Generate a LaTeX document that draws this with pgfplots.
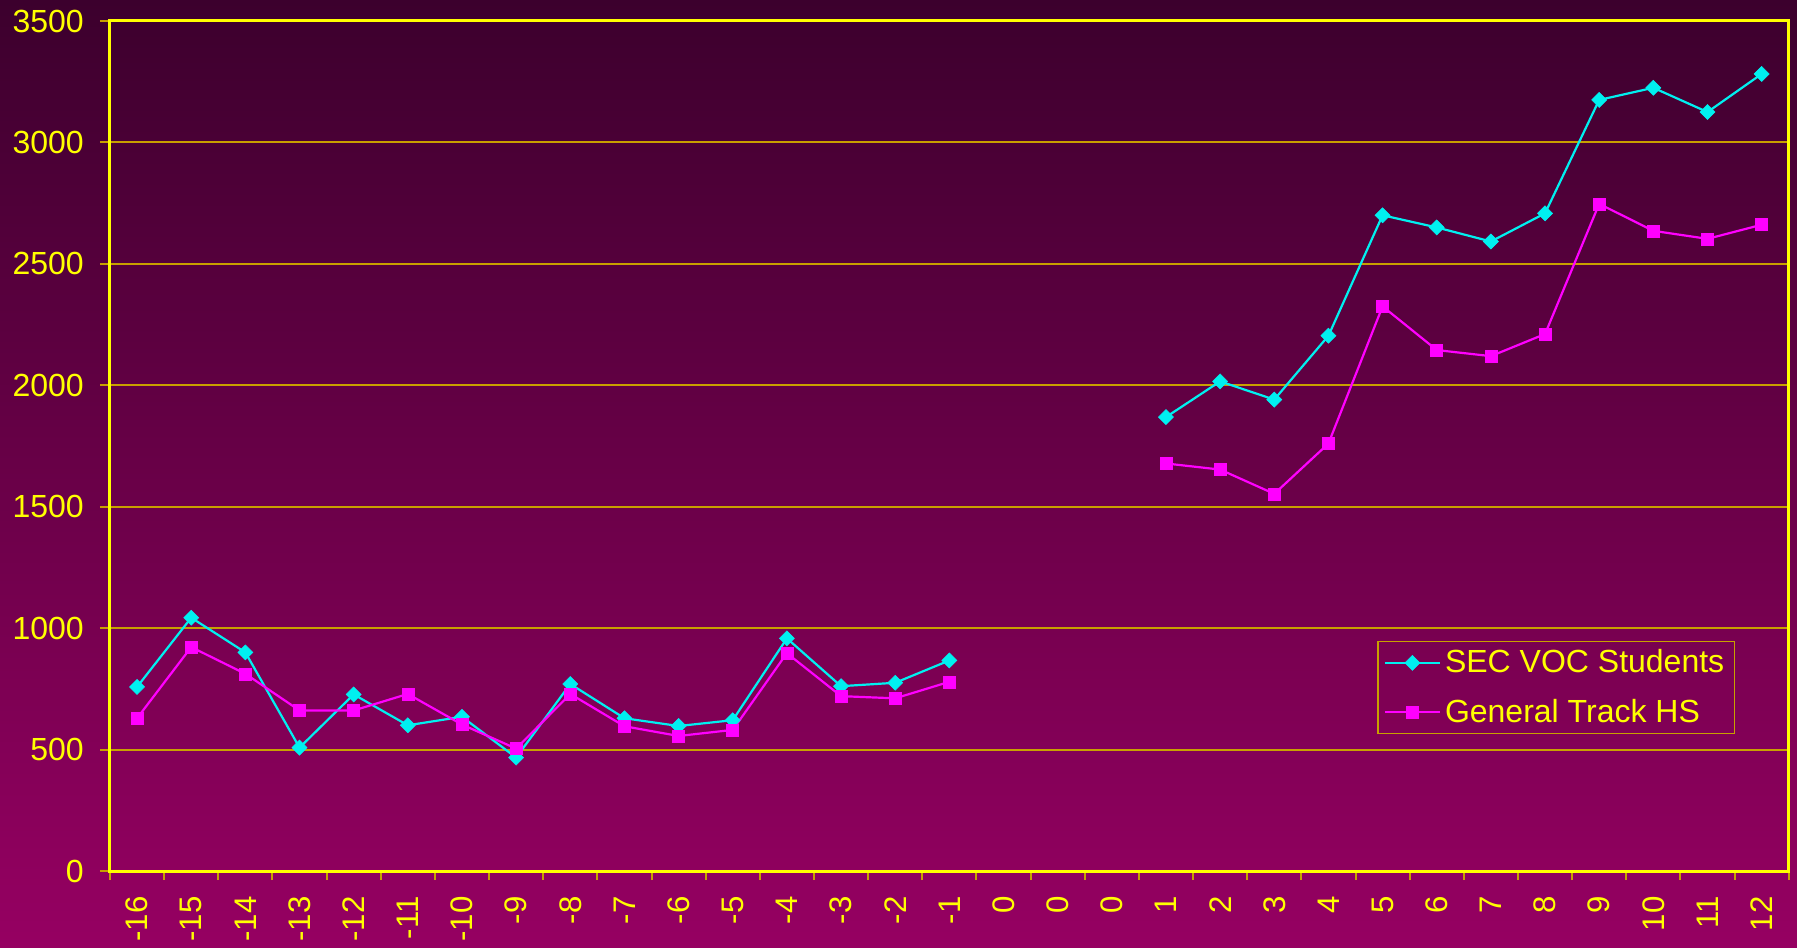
\documentclass[border=0pt]{standalone}
\usepackage{pgfplots}
\usepackage{pgfplotstable}
\pgfplotsset{compat=1.18}
\usepackage{fontspec}
\setmainfont{Liberation Sans}
\usetikzlibrary{backgrounds}

\definecolor{bgtop}{RGB}{60,0,45}
\definecolor{bgmid}{RGB}{122,0,80}
\definecolor{bgbot}{RGB}{150,0,98}
\definecolor{vocc}{RGB}{0,240,240}
\definecolor{genm}{RGB}{255,0,255}
\definecolor{gridgold}{RGB}{200,160,0}
\definecolor{axyel}{RGB}{255,255,0}

% x = position of the category (-16 ... -1, 0, 0, 0, 1 ... 12)
\pgfplotstableread{
x voc gen
0 758 629
1 1043 922
2 900 812
3 508 661
4 727 661
5 600 729
6 635 603
7 467 504
8 770 729
9 629 596
10 597 556
11 621 581
12 958 897
13 761 720
14 775 711
15 867 779
16 nan nan
17 nan nan
18 nan nan
19 1869 1678
20 2016 1653
21 1941 1553
22 2204 1760
23 2700 2325
24 2650 2145
25 2592 2120
26 2708 2211
27 3175 2747
28 3225 2636
29 3125 2603
30 3282 2661
}\students

\begin{document}
\begin{tikzpicture}
\begin{axis}[
    scale only axis,
    width=839.35pt, height=425pt,
    xmin=-0.5, xmax=30.5,
    ymin=0, ymax=3500,
    xtick={0,...,30},
    xticklabels={-16,-15,-14,-13,-12,-11,-10,-9,-8,-7,-6,-5,-4,-3,-2,-1,0,0,0,1,2,3,4,5,6,7,8,9,10,11,12},
    minor xtick={-0.5,0.5,...,30.5},
    major x tick style={draw=none},
    minor x tick style={gridgold, line width=1pt},
    ytick={0,500,...,3500},
    y tick style={gridgold, line width=1pt},
    tick pos=left,
    tick align=outside,
    major tick length=5pt,
    minor tick length=4.5pt,
    ymajorgrids,
    grid style={gridgold, line width=1pt},
    axis line style={axyel, line width=1.5pt},
    tick label style={axyel, font=\fontsize{16}{19}\selectfont},
    xticklabel style={rotate=90, anchor=east, inner xsep=7.5pt,
        font=\fontsize{15.6}{19}\selectfont},
    yticklabel style={xshift=-4.6pt},
    /pgf/number format/assume math mode=true,
    /pgf/number format/1000 sep={},
    scaled y ticks=false,
    unbounded coords=jump,
    legend cell align=left,
    legend style={
        at={(0.968,0.271)}, anchor=north east,
        draw=gridgold, line width=0.75pt, fill=none,
        text=axyel, font=\fontsize{16}{19}\selectfont,
        row sep=7.5pt, inner xsep=3pt, inner ysep=2.2pt,
        /tikz/every even column/.append style={column sep=6pt},
    },
    legend image code/.code={
        \draw[mark repeat=2, mark phase=2]
        plot coordinates {(0pt,0pt) (13.75pt,0pt) (27.5pt,0pt)};
    },
]
\addplot[vocc, line width=1.1pt, mark=square*,
    mark options={rotate=45, fill=vocc, draw=vocc, line width=0.3pt}, mark size=2.65pt]
    table[x=x, y=voc] {\students};
\addplot[genm, line width=1.1pt, mark=square*,
    mark options={fill=genm, draw=genm, line width=0.3pt}, mark size=3pt]
    table[x=x, y=gen] {\students};
\legend{SEC VOC Students, General Track HS}
\end{axis}
\begin{pgfonlayer}{background}
\shade[top color=bgtop, middle color=bgmid, bottom color=bgbot]
    (-55pt,-38pt) rectangle (843.5pt,435.5pt);
\end{pgfonlayer}
\pgfresetboundingbox
\path[use as bounding box] (-55pt,-38pt) rectangle (843.5pt,435.5pt);
\end{tikzpicture}
\end{document}
